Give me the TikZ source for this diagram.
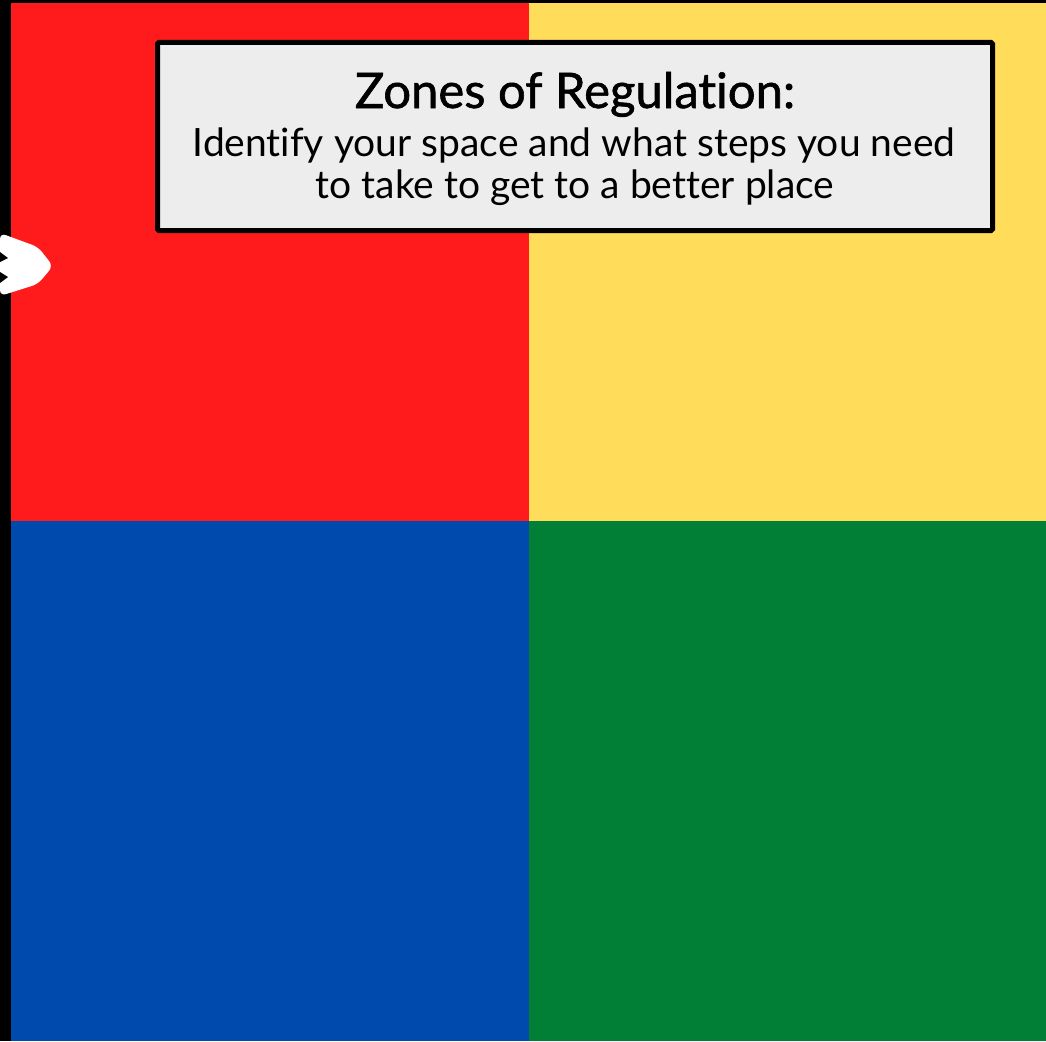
\documentclass[tikz,border=0pt]{standalone}
\usepackage{fontspec}
\setmainfont{Lato}[Ligatures={NoCommon}]
\definecolor{zred}{HTML}{FF1B1B}
\definecolor{zyellow}{HTML}{FFDC5A}
\definecolor{zblue}{HTML}{004AAD}
\definecolor{zgreen}{HTML}{017F37}
\definecolor{boxgray}{HTML}{EDEDED}
\begin{document}
\begin{tikzpicture}[x=1pt,y=-1pt,
  titlebox/.style={draw=black,line width=5pt,fill=boxgray,rounded corners=1.5pt},
  titletext/.style={anchor=base,inner sep=0pt,font=\fontsize{49}{56}\selectfont\addfontfeatures{FakeBold=1.2}},
  subtext/.style={anchor=base,inner sep=0pt,font=\fontsize{39}{45}\selectfont}]
\useasboundingbox (0,0) rectangle (1046,1041);
\fill[black] (0,0) rectangle (1046,1041);
\fill[zred] (11,3) rectangle (529,521);
\fill[zyellow] (529,3) rectangle (1046,521);
\fill[zblue] (11,521) rectangle (529,1041);
\fill[zgreen] (529,521) rectangle (1046,1041);
% white arrow shape at left edge
\fill[white,rounded corners=6pt] (0,233) -- (38,247) -- (53,266) -- (38,284) -- (0,296) -- cycle;
\fill[black] (0,252) -- (8,258) -- (0,262) -- cycle;
\fill[black] (0,272) -- (8,277) -- (0,283) -- cycle;
% title box
\draw[titlebox] (157.5,42.5) rectangle (992.5,230.5);
\node[titletext] (title) at (575,108) {Zones of Regulation:};
\node[subtext] (line1) at (574,156) {Identify your space and what steps you need};
\node[subtext] (line2) at (575,198) {to take to get to a better place};
\end{tikzpicture}
\end{document}
